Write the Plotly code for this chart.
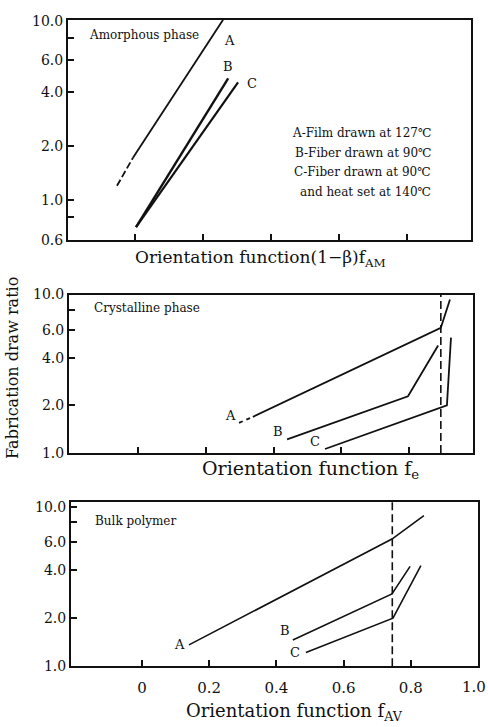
import plotly.graph_objects as go

W, H = 488, 727

# ---- Amorphous phase: draw ratio vs (1-beta) f_AM ----
am_A_x = [-0.053, -0.006, 0.259]
am_A_y = [1.20, 1.72, 10.1]
am_B_x = [0.003, 0.274]
am_B_y = [0.706, 4.77]
am_C_x = [0.003, 0.303]
am_C_y = [0.706, 4.53]

# ---- Crystalline phase: draw ratio vs f_c ----
cr_A_x = [0.298, 0.339, 0.894, 0.921]
cr_A_y = [1.55, 1.69, 6.17, 9.3]
cr_B_x = [0.440, 0.797, 0.886]
cr_B_y = [1.22, 2.28, 4.77]
cr_C_x = [0.552, 0.912, 0.924]
cr_C_y = [1.06, 2.0, 5.35]
cr_limit = 0.894

# ---- Bulk polymer: draw ratio vs f_AV ----
bk_A_x = [0.140, 0.744, 0.839]
bk_A_y = [1.36, 6.28, 8.8]
bk_B_x = [0.449, 0.744, 0.798]
bk_B_y = [1.46, 2.84, 4.23]
bk_C_x = [0.488, 0.747, 0.830]
bk_C_y = [1.22, 2.0, 4.28]
bk_limit = 0.745

x_ticks = [0, 0.2, 0.4, 0.6, 0.8]
x_ticktext = ["0", "0.2", "0.4", "0.6", "0.8"]
x_end_label = "1.0"   # label of the right frame edge (x = 1.0)
y_ticks_am = [0.6, 1, 2, 4, 6, 10]
y_text_am = ["0.6", "1.0", "2.0", "4.0", "6.0", "10.0"]
y_minor_am = [0.8, 8]
y_ticks = [1, 2, 4, 6, 10]
y_text = ["1.0", "2.0", "4.0", "6.0", "10.0"]
y_minor = [8]

legend_lines = ["A-Film drawn at 127℃", "B-Fiber drawn at 90℃",
                "C-Fiber drawn at 90℃", "and heat set at 140℃"]

SERIF = "DejaVu Serif"
BLACK = "#111111"


def px_x(p):
    return p / W


def px_y(p):
    return 1 - p / H


fig = go.Figure()


def line(xs, ys, ax, width=1.8, dash="solid"):
    fig.add_trace(go.Scatter(
        x=xs, y=ys, mode="lines", xaxis="x" + ax, yaxis="y" + ax,
        line=dict(color=BLACK, width=width, dash=dash),
        showlegend=False, hoverinfo="skip"))


# amorphous panel: A starts dashed, then solid
line(am_A_x[:2], am_A_y[:2], "", 1.8, "7px,3px")
line(am_A_x[1:], am_A_y[1:], "", 1.8)
line(am_B_x, am_B_y, "", 2.4)
line(am_C_x, am_C_y, "", 2.2)

# crystalline panel
line(cr_A_x[:2], cr_A_y[:2], "2", 1.8, "4px,4px")
line(cr_A_x[1:], cr_A_y[1:], "2", 1.8)
line(cr_B_x, cr_B_y, "2", 1.8)
line(cr_C_x, cr_C_y, "2", 1.8)

# bulk panel
line(bk_A_x, bk_A_y, "3", 1.6)
line(bk_B_x, bk_B_y, "3", 1.6)
line(bk_C_x, bk_C_y, "3", 1.6)

axis_common = dict(
    showgrid=False, zeroline=False, showline=True, mirror=True,
    linecolor=BLACK, linewidth=2, ticks="inside", ticklen=6,
    tickwidth=1.5, tickcolor=BLACK,
    tickfont=dict(family=SERIF, size=14, color=BLACK),
)

panels = [
    # (suffix, x px span, y px span, x range, y range, y ticks, y text, minor, show x labels)
    ("", (68, 471), (12, 237), (-0.197, 0.988), (-0.2218, 1.005),
     y_ticks_am, y_text_am, y_minor_am, False),
    ("2", (69, 473), (293, 455), (-0.204, 0.989), (0.0, 1.0),
     y_ticks, y_text, y_minor, False),
    ("3", (71, 478), (505, 673), (-0.211, 1.0), (0.0, 1.031),
     y_ticks, y_text, y_minor, True),
]

layout_axes = {}
for suf, xs, ys, xr, yr, yt, ytt, ymin, showx in panels:
    xa = dict(axis_common)
    xa.update(domain=[px_x(xs[0]), px_x(xs[1])], range=list(xr),
              tickvals=x_ticks, ticktext=x_ticktext,
              showticklabels=showx, anchor="y" + suf,
              ticklabelstandoff=7,
              tickfont=dict(family=SERIF, size=15, color=BLACK))
    ya = dict(axis_common)
    ya.update(domain=[px_y(ys[1]), px_y(ys[0])], type="log", range=list(yr),
              tickvals=yt, ticktext=ytt, anchor="x" + suf,
              minor=dict(tickvals=ymin, ticks="inside", ticklen=6,
                         tickwidth=1.5, tickcolor=BLACK, showgrid=False))
    layout_axes["xaxis" + suf] = xa
    layout_axes["yaxis" + suf] = ya

fig.update_layout(
    width=W, height=H, margin=dict(l=0, r=0, t=0, b=0),
    paper_bgcolor="white", plot_bgcolor="white",
    font=dict(family=SERIF, color=BLACK),
    **layout_axes,
)

# vertical limit lines
for suf, xv in (("2", cr_limit), ("3", bk_limit)):
    fig.add_shape(type="line", xref="x" + suf, yref="y" + suf + " domain",
                  x0=xv, x1=xv, y0=0, y1=1,
                  line=dict(color=BLACK, width=1.6, dash="8px,4px"))


def ann(text, x, y, size, xanchor="center", angle=0, yanchor="middle"):
    fig.add_annotation(text=text, x=px_x(x), y=px_y(y), xref="paper", yref="paper",
                       showarrow=False, xanchor=xanchor, yanchor=yanchor,
                       textangle=angle,
                       font=dict(family=SERIF, size=size, color=BLACK))


# right-edge tick label of the bulk panel, kept inside the page
ann(x_end_label, 488, 694, 15, xanchor="right")

# axis titles
ann("Orientation function(1−β)f<sub>AM</sub>", 260, 242, 17, yanchor="top")
ann("Orientation function f<sub>e</sub>", 310, 457, 19, yanchor="top")
ann("Orientation function f<sub>AV</sub>", 294, 734, 18, yanchor="bottom")
ann("Fabrication draw ratio", 13, 368, 16, angle=-90)

# panel names
ann("Amorphous phase", 87, 28, 12, "left")
ann("Crystalline phase", 92, 307, 12, "left")
ann("Bulk polymer", 93, 525, 12, "left")

# legend text
for i, t in enumerate(legend_lines):
    ann(t, 433, 128 + 20 * i, 12, "right")

# curve letters
for t, x, y in (("A", 229, 33), ("B", 228, 60), ("C", 252, 77),
                ("A", 230, 417), ("B", 278, 433), ("C", 315, 443),
                ("A", 179, 651), ("B", 285, 637), ("C", 295, 659)):
    ann(t, x, y, 13)

fig.write_html("out.html")
